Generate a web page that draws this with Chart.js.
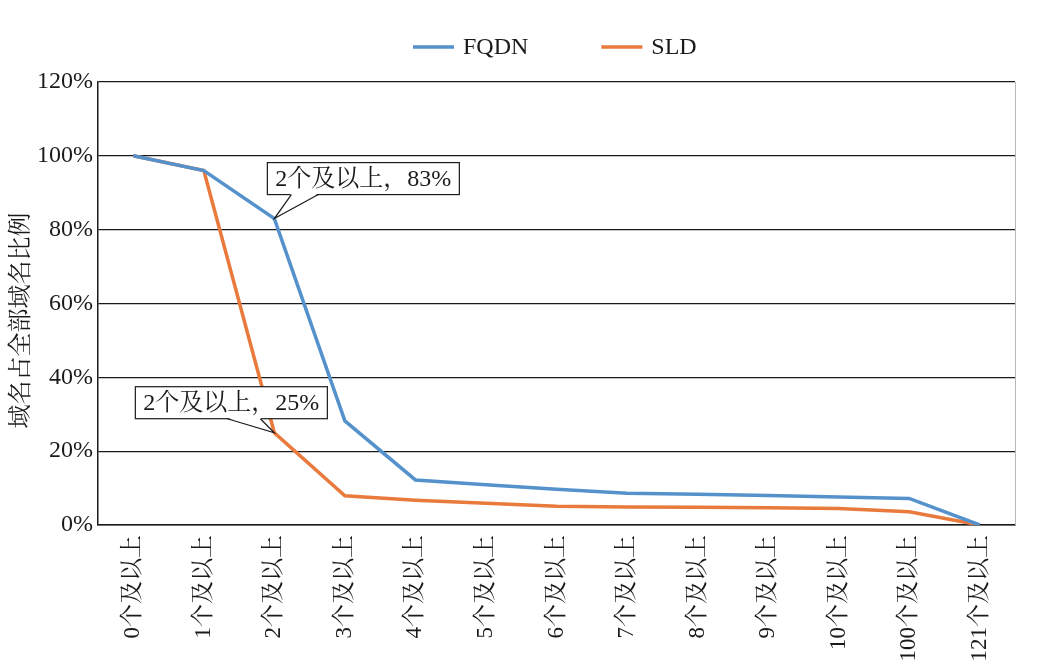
<!DOCTYPE html>
<html>
<head>
<meta charset="utf-8">
<script src="https://cdn.jsdelivr.net/npm/chart.js@4"></script>
<style>
  html, body { margin: 0; padding: 0; background: #fff; }
  #wrap { width: 1040px; height: 672px; }
</style>
</head>
<body>
<div id="wrap"><canvas id="domainChart" width="1040" height="672"></canvas></div>
<script>
// 数据
const categories = ['0个及以上', '1个及以上', '2个及以上', '3个及以上', '4个及以上', '5个及以上', '6个及以上',
                    '7个及以上', '8个及以上', '9个及以上', '10个及以上', '100个及以上', '121个及以上'];
const fqdnValues = [100, 96, 83, 28.2, 12.2, 10.9, 9.7, 8.6, 8.3, 8.0, 7.6, 7.2, 0];
const sldValues  = [100, 96, 25, 7.9, 6.7, 5.9, 5.1, 4.9, 4.8, 4.7, 4.5, 3.6, 0];
const yTicks = [0, 20, 40, 60, 80, 100, 120];
const callouts = [
    { series: 0, index: 2, text: '2个及以上，83%' },
    { series: 1, index: 2, text: '2个及以上，25%' }
];

const FONT = "'Liberation Serif', 'Noto Serif CJK SC', 'Noto Sans CJK SC', serif";

// 图例 + 标注 + 右边框
const extras = {
    id: 'extras',
    afterDraw(chart) {
        const ctx = chart.ctx;
        const area = chart.chartArea;
        const xs = chart.scales.x, ys = chart.scales.y;

        // 右边框
        ctx.save();
        ctx.strokeStyle = '#b8b8b8';
        ctx.lineWidth = 1;
        ctx.beginPath();
        ctx.moveTo(area.right + 0.5, area.top);
        ctx.lineTo(area.right + 0.5, area.bottom);
        ctx.stroke();
        ctx.restore();

        // 图例
        ctx.save();
        ctx.font = '24px ' + FONT;
        ctx.textBaseline = 'middle';
        const legendY = 47;
        let lx = 413;
        chart.data.datasets.forEach((ds, i) => {
            ctx.strokeStyle = ds.borderColor;
            ctx.lineWidth = 3.5;
            ctx.beginPath();
            ctx.moveTo(lx, legendY);
            ctx.lineTo(lx + 41, legendY);
            ctx.stroke();
            ctx.fillStyle = '#1a1a1a';
            ctx.fillText(ds.label, lx + 50, legendY + 1);
            lx += 50 + ctx.measureText(ds.label).width + 73;
        });
        ctx.restore();

        // 标注框
        ctx.save();
        ctx.font = '24px ' + FONT;
        callouts.forEach((c, k) => {
            const val = chart.data.datasets[c.series].data[c.index];
            const tx = xs.getPixelForValue(c.index);
            const ty = ys.getPixelForValue(val);
            const w = 192, h = 32;
            let bx, by, b1, b2;
            if (k === 0) {
                bx = tx - 7; by = ty - 56; b1 = tx + 17; b2 = tx + 44;
            } else {
                bx = tx - 139; by = ty - 46; b1 = tx - 47; b2 = tx - 14;
            }
            ctx.fillStyle = '#fff';
            ctx.strokeStyle = '#1a1a1a';
            ctx.lineWidth = 1.2;
            ctx.fillRect(bx, by, w, h);
            ctx.strokeRect(bx, by, w, h);
            // 指针
            ctx.beginPath();
            ctx.moveTo(b1, by + h - 1);
            ctx.lineTo(tx, ty);
            ctx.lineTo(b2, by + h - 1);
            ctx.closePath();
            ctx.fill();
            ctx.beginPath();
            ctx.moveTo(b1, by + h);
            ctx.lineTo(tx, ty);
            ctx.lineTo(b2, by + h);
            ctx.stroke();
            ctx.fillStyle = '#1a1a1a';
            ctx.textAlign = 'center';
            ctx.textBaseline = 'middle';
            ctx.fillText(c.text, bx + w / 2, by + h / 2 + 1);
        });
        ctx.restore();

        // 纵轴标题（略偏下，与原图一致）
        ctx.save();
        ctx.font = '24px ' + FONT;
        ctx.fillStyle = '#1a1a1a';
        ctx.textAlign = 'center';
        ctx.textBaseline = 'middle';
        ctx.translate(22, (area.top + area.bottom) / 2 + 17);
        ctx.rotate(-Math.PI / 2);
        ctx.fillText('域名占全部域名比例', 0, 0);
        ctx.restore();
    }
};

const ctx = document.getElementById('domainChart').getContext('2d');
const domainChart = new Chart(ctx, {
    type: 'line',
    data: {
        labels: categories,
        datasets: [{
            label: 'FQDN',
            data: fqdnValues,
            borderColor: '#5592cc',
            borderWidth: 3.5,
            pointRadius: 0,
            tension: 0,
            fill: false
        }, {
            label: 'SLD',
            data: sldValues,
            borderColor: '#e97a3c',
            borderWidth: 3.5,
            pointRadius: 0,
            tension: 0,
            fill: false
        }]
    },
    options: {
        responsive: false,
        animation: false,
        layout: { padding: { top: 82, right: 25, left: 0, bottom: 0 } },
        plugins: {
            legend: { display: false },
            tooltip: { enabled: false }
        },
        scales: {
            x: {
                offset: true,
                grid: { display: false, drawTicks: false },
                border: { display: true, color: '#1a1a1a', width: 1.5 },
                ticks: {
                    autoSkip: false,
                    minRotation: 90,
                    maxRotation: 90,
                    padding: 10,
                    color: '#1a1a1a',
                    font: { family: FONT, size: 23 }
                },
                afterFit(scale) { scale.height = 147; }
            },
            y: {
                min: 0,
                max: 120,
                afterBuildTicks(scale) { scale.ticks = yTicks.map(v => ({ value: v })); },
                grid: { color: '#1a1a1a', lineWidth: 1.2, drawTicks: false },
                border: { display: true, color: '#1a1a1a', width: 1.5 },
                ticks: {
                    padding: 5,
                    color: '#1a1a1a',
                    font: { family: FONT, size: 24 },
                    callback: v => v + '%'
                },
                afterFit(scale) { scale.width = 98; }
            }
        }
    },
    plugins: [extras]
});
</script>
</body>
</html>
